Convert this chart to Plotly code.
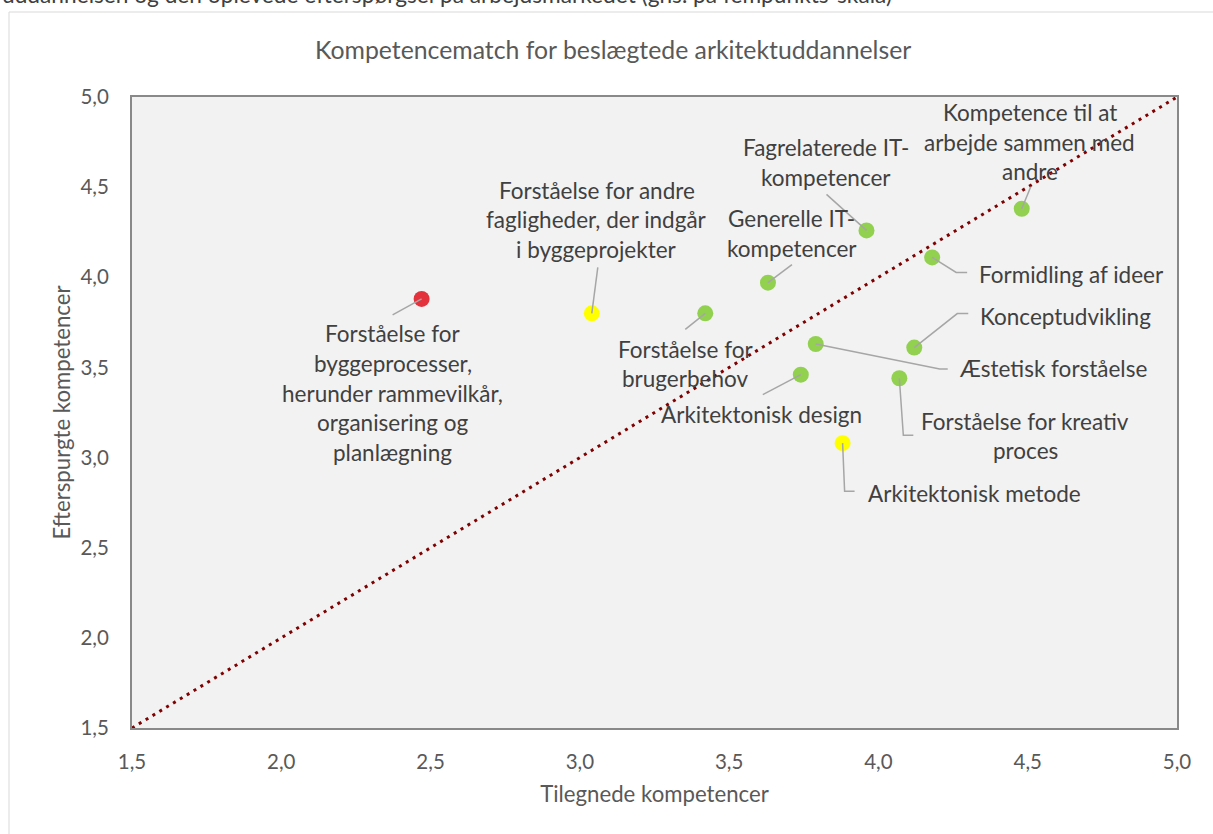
import plotly.graph_objects as go

# ---------------- data ----------------
kompetencer = [
    ["Forståelse for", "byggeprocesser,", "herunder rammevilkår,", "organisering og", "planlægning"],
    ["Forståelse for andre", "fagligheder, der indgår", "i byggeprojekter"],
    ["Forståelse for", "brugerbehov"],
    ["Generelle IT-", "kompetencer"],
    ["Fagrelaterede IT-", "kompetencer"],
    ["Kompetence til at", "arbejde sammen med", "andre"],
    ["Formidling af ideer"],
    ["Konceptudvikling"],
    ["Æstetisk forståelse"],
    ["Forståelse for kreativ", "proces"],
    ["Arkitektonisk design"],
    ["Arkitektonisk metode"],
]
tilegnede = [2.47, 3.04, 3.42, 3.63, 3.96, 4.48, 4.18, 4.12, 3.79, 4.07, 3.74, 3.88]
efterspurgte = [3.88, 3.80, 3.80, 3.97, 4.26, 4.38, 4.11, 3.61, 3.63, 3.44, 3.46, 3.08]
status = ["red", "yellow", "green", "green", "green", "green", "green",
          "green", "green", "green", "green", "yellow"]
axis_ticks = [1.5, 2.0, 2.5, 3.0, 3.5, 4.0, 4.5, 5.0]
diag = [1.5, 5.0]

title_text = "Kompetencematch for beslægtede arkitektuddannelser"
top_text = "uddannelsen og den oplevede efterspørgsel på arbejdsmarkedet (gns. på fempunkts-skala)"
x_title = "Tilegnede kompetencer"
y_title = "Efterspurgte kompetencer"

# ---------------- layout / style ----------------
W, H = 1213, 834
ML, MR, MT, MB = 132, 36, 97, 106
PW, PH = W - ML - MR, H - MT - MB
XR = [1.5, 5.0]
YR = [1.5, 5.0]
ppx = PW / (XR[1] - XR[0])
ppy = PH / (YR[1] - YR[0])

color_map = {"red": "#E3323C", "yellow": "#FFFF00", "green": "#92D050"}
FONT = "Lato"
LABEL_SIZE = 22.5
LINE_GAP = 29.6
LABEL_COLOR = "#404040"
TICK_COLOR = "#595959"
LEADER_COLOR = "#A6A6A6"

# label placement: (dx of anchor, dy of first line centre) in px from point, anchor
label_pos = [
    (-29, 35, "center"),
    (5, -123, "center"),
    (-20, 36, "center"),
    (24, -64, "center"),
    (-40, -83, "center"),
    (8, -96, "center"),
    (45, 17, "left"),
    (64, -31, "left"),
    (141, 25, "left"),
    (126, 43, "center"),
    (-39, 40, "center"),
    (23, 50, "left"),
]
# leader line vertices (pixel offsets from point)
leaders = [
    [(-29, 16)],
    [(6, -46)],
    [(-20, 16)],
    [(24, -18)],
    [(-40, -36)],
    [(9, -22)],
    [(24, 15), (35, 15)],
    [(43, -34), (54, -34)],
    [(124, 25), (132, 25)],
    [(4, 57), (14, 57)],
    [(-38, 20)],
    [(2, 48), (12, 48)],
]

fig = go.Figure()

# diagonal reference line
fig.add_trace(go.Scatter(
    x=diag, y=diag, mode="lines",
    line=dict(color="#7F0000", width=3, dash="3px,5px"),
    hoverinfo="skip", showlegend=False, cliponaxis=False,
))

shapes = []
for i, (x0, y0) in enumerate(zip(tilegnede, efterspurgte)):
    pts = [(x0, y0)] + [(x0 + dx / ppx, y0 - dy / ppy) for dx, dy in leaders[i]]
    path = "M " + " L ".join(f"{px},{py}" for px, py in pts)
    shapes.append(dict(type="path", path=path, xref="x", yref="y",
                       line=dict(color=LEADER_COLOR, width=1.5), layer="above"))

fig.add_trace(go.Scatter(
    x=tilegnede, y=efterspurgte, mode="markers",
    marker=dict(size=16, color=[color_map[s] for s in status], line=dict(width=0)),
    hoverinfo="skip", showlegend=False,
))

annotations = []
for i, (x0, y0) in enumerate(zip(tilegnede, efterspurgte)):
    dx, dy, anc = label_pos[i]
    for j, line in enumerate(kompetencer[i]):
        annotations.append(dict(
            x=x0, y=y0, xref="x", yref="y", text=line, showarrow=False,
            xshift=dx, yshift=-(dy + j * LINE_GAP), xanchor=anc, yanchor="middle",
            font=dict(family=FONT, size=LABEL_SIZE, color=LABEL_COLOR),
        ))

annotations.append(dict(
    x=(613 - ML) / PW, y=(H - MB - 50) / PH, xref="paper", yref="paper",
    text=title_text, showarrow=False, xanchor="center", yanchor="middle",
    font=dict(family=FONT, size=24.8, color=TICK_COLOR),
))
annotations.append(dict(
    x=(0 - ML) / PW, y=(H - MB - 10) / PH, xref="paper", yref="paper",
    text=top_text, showarrow=False, xanchor="left", yanchor="bottom",
    font=dict(family=FONT, size=22.7, color="#404040"),
))

# outer chart container border
shapes.append(dict(type="rect", xref="paper", yref="paper",
                   x0=(9 - ML) / PW, x1=(W + 40 - ML) / PW,
                   y0=(H - MB - (H + 40)) / PH, y1=(H - MB - 12) / PH,
                   line=dict(color="#D9D9D9", width=1), layer="below"))

axis_common = dict(
    range=XR, tickvals=axis_ticks, tickformat=".1f",
    showgrid=False, zeroline=False, showline=True, mirror=True,
    linecolor="#898989", linewidth=2, ticks="",
    tickfont=dict(family=FONT, size=20.5, color=TICK_COLOR),
)

fig.update_layout(
    width=W, height=H,
    margin=dict(l=ML, r=MR, t=MT, b=MB, pad=0),
    paper_bgcolor="white", plot_bgcolor="#F2F2F2",
    separators=",.",
    shapes=shapes, annotations=annotations,
    xaxis=dict(**axis_common, ticklabelstandoff=14,
               title=dict(text=x_title, standoff=15,
                          font=dict(family=FONT, size=22.2, color=TICK_COLOR))),
    yaxis=dict(**{**axis_common, "range": YR}, ticklabelstandoff=17,
               title=dict(text=y_title, standoff=4,
                          font=dict(family=FONT, size=22.2, color=TICK_COLOR))),
    showlegend=False,
)

fig.write_html("out.html", config={"displayModeBar": False},
               post_script="document.body.style.margin='0';")
